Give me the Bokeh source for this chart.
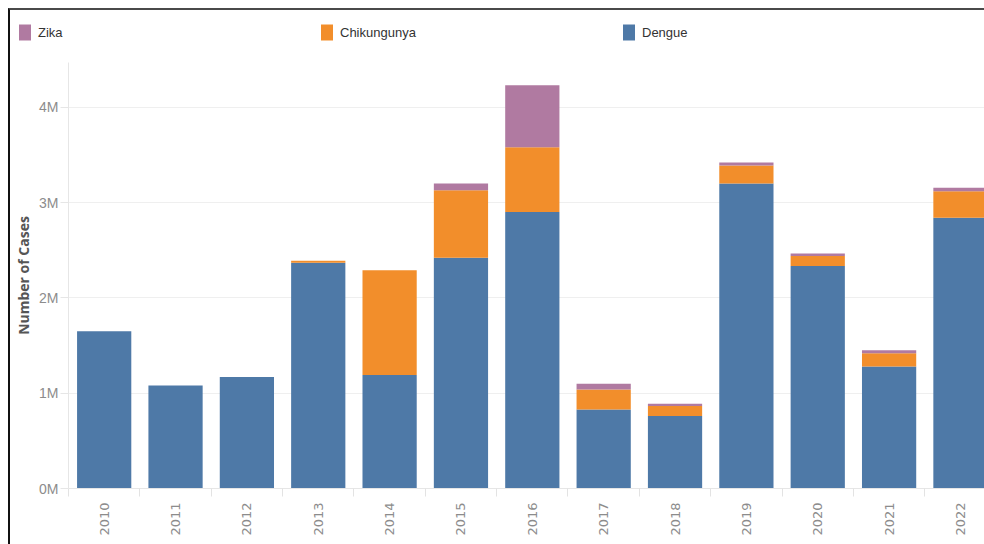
import math
from bokeh.plotting import figure
from bokeh.layouts import column
from bokeh.models import (FixedTicker, Range1d, Legend, LegendItem, ColumnDataSource,
                          CustomJSTickFormatter)
from bokeh.embed import file_html
from bokeh.resources import INLINE

years = ["2010", "2011", "2012", "2013", "2014", "2015", "2016",
         "2017", "2018", "2019", "2020", "2021", "2022"]
dengue = [1650000, 1080000, 1170000, 2370000, 1190000, 2420000, 2900000,
          830000, 760000, 3200000, 2335000, 1280000, 2840000]
chikungunya = [0, 0, 0, 20000, 1100000, 710000, 680000,
               210000, 105000, 190000, 105000, 140000, 280000]
zika = [0, 0, 0, 0, 0, 70000, 650000,
        60000, 25000, 30000, 25000, 30000, 35000]
series = ["Dengue", "Chikungunya", "Zika"]
colors = ["#4e79a7", "#f28e2b", "#b07aa1"]
legend_order = ["Zika", "Chikungunya", "Dengue"]
y_ticks = [0, 1000000, 2000000, 3000000, 4000000]

x_idx = list(range(len(years)))
source = ColumnDataSource(dict(x=x_idx, Dengue=dengue, Chikungunya=chikungunya, Zika=zika))

FONT = "Liberation Sans"

# ---------- legend strip on top (its bars lie outside its view; only the legend shows) ----------
top = figure(width=976, height=46, output_backend="svg", toolbar_location=None,
             x_range=Range1d(-1000, -999), y_range=Range1d(0, 1),
             x_axis_location=None, y_axis_location=None,
             min_border_left=0, min_border_right=0, min_border_top=0, min_border_bottom=0)
top.frame_align = False
top.styles = {"border-top": "2px solid #4a4a4a", "border-left": "2px solid #111111"}
top.outline_line_color = None
top.xgrid.grid_line_color = None
top.ygrid.grid_line_color = None
top_rs = top.vbar_stack(series, x="x", width=0.76, color=colors, line_color=None, source=source)
swatch = dict(zip(series, top_rs))
legend_x = [7, 309, 611]
for name, lx in zip(legend_order, legend_x):
    lg = Legend(items=[LegendItem(label=name, renderers=[swatch[name]])], location=(lx, 14),
                orientation="horizontal", glyph_width=15, glyph_height=20,
                label_standoff=6, label_height=20, padding=0, margin=0, spacing=0,
                border_line_color=None, background_fill_alpha=0,
                label_text_font=FONT, label_text_font_size="13px",
                label_text_color="#333333")
    top.add_layout(lg, "center")

# ---------- main chart ----------
p = figure(width=976, height=490, output_backend="svg", toolbar_location=None,
           x_range=Range1d(-0.5, 12.365), y_range=Range1d(0, 4470000),
           min_border_left=58, min_border_right=0, min_border_top=8, min_border_bottom=56)
p.frame_align = False
p.styles = {"border-left": "2px solid #111111"}

rs = p.vbar_stack(series, x="x", width=0.76, color=colors, line_color=None, source=source)

p.outline_line_color = None
p.xgrid.grid_line_color = None
p.ygrid.grid_line_color = "#efefef"
p.ygrid.ticker = FixedTicker(ticks=y_ticks)

p.yaxis.ticker = FixedTicker(ticks=y_ticks)
p.yaxis.formatter = CustomJSTickFormatter(code="return (tick/1000000).toFixed(0) + 'M';")
p.yaxis.axis_label = "Number of Cases"
p.yaxis.axis_label_text_font = "Open Sans"
p.yaxis.axis_label_text_font_style = "bold"
p.yaxis.axis_label_text_font_size = "14px"
p.yaxis.axis_label_text_color = "#555555"
p.yaxis.axis_label_standoff = 3
p.yaxis.major_label_text_font = FONT
p.yaxis.major_label_text_font_size = "14px"
p.yaxis.major_label_text_color = "#8c8c8c"
p.yaxis.major_label_standoff = 2
p.yaxis.major_tick_out = 8
p.yaxis.major_tick_in = 0
p.yaxis.major_tick_line_color = "#e6e6e6"
p.yaxis.minor_tick_line_color = None
p.yaxis.axis_line_color = "#e6e6e6"

p.xaxis.ticker = FixedTicker(ticks=x_idx, minor_ticks=[i - 0.5 for i in range(len(years) + 1)])
p.xaxis.major_label_overrides = {i: y for i, y in zip(x_idx, years)}
p.xaxis.major_label_orientation = math.pi / 2
p.xaxis.major_label_text_font = "DejaVu Sans"
p.xaxis.major_label_text_font_size = "13px"
p.xaxis.major_label_text_color = "#8c8c8c"
p.xaxis.major_label_standoff = 6
p.xaxis.major_tick_out = 0
p.xaxis.major_tick_in = 0
p.xaxis.major_tick_line_color = None
p.xaxis.minor_tick_out = 8
p.xaxis.minor_tick_in = 0
p.xaxis.minor_tick_line_color = "#e3e3e3"
p.xaxis.axis_line_color = "#e6e6e6"

layout = column(top, p, spacing=0, styles={"margin-left": "8px", "margin-top": "8px"})

open("out.html", "w").write(file_html(layout, INLINE))
